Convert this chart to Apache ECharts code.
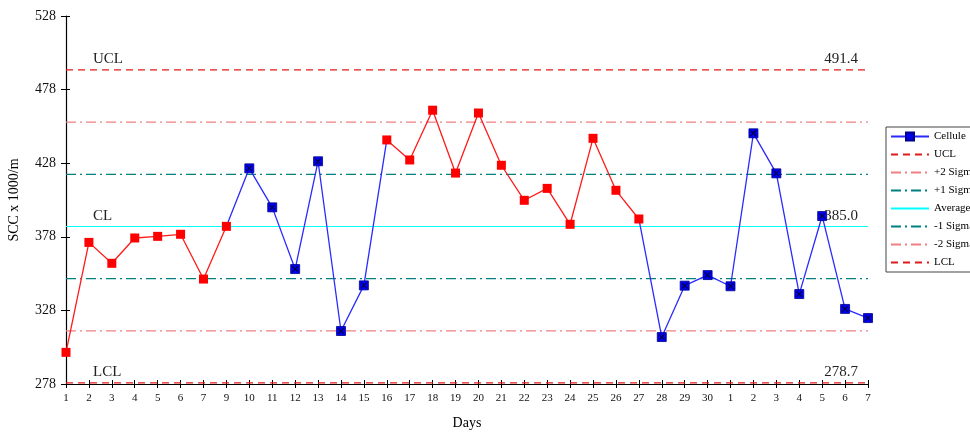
<!DOCTYPE html>
<html>
<head>
<meta charset="utf-8">
<script src="https://cdn.jsdelivr.net/npm/echarts@6/dist/echarts.min.js"></script>
<style>html,body{margin:0;padding:0;background:#fff;}#c{width:970px;height:432px;}</style>
</head>
<body>
<div id="c"></div>
<script>
const days = ['1','2','3','4','5','6','7','9','10','11','12','13','14','15','16','17','18','19','20','21','22','23','24','25','26','27','28','29','30','1','2','3','4','5','6','7'];
const cellule = [299.5,374.2,360.0,377.2,378.3,379.7,349.3,385.1,424.5,398.0,356.1,429.3,314.0,345.0,443.8,430.2,464.0,421.3,462.1,426.6,402.8,410.9,386.5,444.9,409.6,390.1,309.9,344.8,352.0,344.4,448.3,421.1,339.1,392.1,329.0,322.8];
// 'r' = red marked point, 'b' = blue marked point
const pointGroup = ['r','r','r','r','r','r','r','r','b','b','b','b','b','b','r','r','r','r','r','r','r','r','r','r','r','r','b','b','b','b','b','b','b','b','b','b'];
const UCL = 491.4, CL = 385.0, LCL = 278.7;
const yTicks = [278, 328, 378, 428, 478, 528];

const sigma = (UCL - CL) / 3;
const limits = [
  {name:'UCL', v:UCL, color:'#e31a1c', type:[7,5]},
  {name:'+2 Sigma', v:CL + 2*sigma, color:'#f08080', type:[10,4,2,4]},
  {name:'+1 Sigma', v:CL + sigma, color:'#008080', type:[10,4,2,4]},
  {name:'Average', v:CL, color:'#00ffff', type:'solid'},
  {name:'-1 Sigma', v:CL - sigma, color:'#008080', type:[10,4,2,4]},
  {name:'-2 Sigma', v:CL - 2*sigma, color:'#f08080', type:[10,4,2,4]},
  {name:'LCL', v:LCL, color:'#e31a1c', type:[7,5]}
];
const serif = 'Liberation Serif';
const isBlue = i => pointGroup[i] === 'b';
const redData = cellule.map((v,i) => isBlue(i) ? null : v);
const blueData = cellule.map((v,i) => {
  if (isBlue(i)) return v;
  if ((i>0 && isBlue(i-1)) || (i<cellule.length-1 && isBlue(i+1))) return {value:v, symbol:'none'};
  return null;
});
const crossData = cellule.map((v,i) => isBlue(i) ? [i, v] : null).filter(d => d !== null);

function lbl(text, pos, dist) {
  return {show:true, formatter:text, position:pos, distance:dist, fontFamily:serif, fontSize:15, color:'#222'};
}
function markFor(name, value, valText) {
  return {
    silent:true, symbol:'none', lineStyle:{color:'rgba(0,0,0,0)', width:0},
    data:[
      {yAxis:value, label:lbl(name,'insideStartTop',[27,3])},
      {yAxis:value, label:lbl(valText,'insideEndTop',[10,3])}
    ]
  };
}

const series = [];
limits.forEach(l => {
  const s = {
    name:l.name, type:'line', data:days.map(()=>l.v), symbol:'none', silent:true,
    lineStyle:{color:l.color, width:1.2, type:l.type}, itemStyle:{color:l.color}, z:2
  };
  if (l.name==='UCL') s.markLine = markFor('UCL', UCL, UCL.toFixed(1));
  if (l.name==='Average') s.markLine = markFor('CL', CL, CL.toFixed(1));
  if (l.name==='LCL') s.markLine = markFor('LCL', LCL, LCL.toFixed(1));
  series.push(s);
});
series.push({
  name:'Cellule', type:'line', data:blueData, connectNulls:false,
  symbol:'rect', symbolSize:9,
  lineStyle:{color:'#2a2aff', width:1.3}, itemStyle:{color:'#0000ee', borderColor:'#00008b', borderWidth:0.8}, z:5
});
series.push({
  name:'CelluleRed', type:'line', data:redData, connectNulls:false,
  symbol:'rect', symbolSize:9,
  lineStyle:{color:'#ff1a1a', width:1.3}, itemStyle:{color:'#ff0000'}, z:6
});
series.push({
  name:'cross', type:'scatter', data:crossData,
  symbol:'path://M0,1.2L1.2,0L5,3.8L8.8,0L10,1.2L6.2,5L10,8.8L8.8,10L5,6.2L1.2,10L0,8.8L3.8,5Z', symbolSize:6,
  itemStyle:{color:'#000'}, z:7, silent:true
});

const legendNames = ['Cellule','UCL','+2 Sigma','+1 Sigma','Average','-1 Sigma','-2 Sigma','LCL'];
const chart = echarts.init(document.getElementById('c'));
chart.setOption({
  animation:false,
  grid:{left:66, right:102, top:16, bottom:48, containLabel:false, outerBoundsMode:'none'},
  legend:{
    data:legendNames.map(n => n === 'Cellule' ? {name:n} : {name:n, itemStyle:{opacity:0}}),
    orient:'vertical', left:886, top:127, itemWidth:38, itemHeight:10, itemGap:7,
    padding:[4,8,4,4], borderColor:'#444', borderWidth:1, borderRadius:0,
    textStyle:{fontFamily:serif, fontSize:11, color:'#000'}, selectedMode:false
  },
  xAxis:[{
    type:'category', data:days, boundaryGap:false,
    name:'Days', nameLocation:'middle', nameGap:32,
    nameTextStyle:{fontFamily:serif, fontSize:14, color:'#000'},
    axisLine:{lineStyle:{color:'#000', width:1.2}},
    axisTick:{show:true, length:4, interval:0, lineStyle:{color:'#000'}},
    axisLabel:{interval:0, fontFamily:serif, fontSize:11, color:'#111', margin:9},
    splitLine:{show:false}
  },{
    type:'category', data:days, boundaryGap:false, position:'bottom',
    axisLine:{show:false}, axisLabel:{show:false},
    axisTick:{show:true, inside:true, length:4, interval:0, lineStyle:{color:'#000'}},
    splitLine:{show:false}
  }],
  yAxis:[{
    type:'value', min:yTicks[0], max:yTicks[yTicks.length-1], interval:yTicks[1]-yTicks[0],
    name:'SCC x 1000/m', nameLocation:'middle', nameGap:45, nameRotate:90,
    nameTextStyle:{fontFamily:serif, fontSize:14, color:'#000'},
    axisLine:{show:true, lineStyle:{color:'#000', width:1.2}},
    axisTick:{show:true, length:5, lineStyle:{color:'#000'}},
    axisLabel:{fontFamily:serif, fontSize:14, color:'#111', margin:10},
    splitLine:{show:false}
  },{
    type:'value', min:yTicks[0], max:yTicks[yTicks.length-1], interval:yTicks[1]-yTicks[0], position:'left',
    axisLine:{show:false}, axisLabel:{show:false},
    axisTick:{show:true, inside:true, length:4, lineStyle:{color:'#000'}},
    splitLine:{show:false}
  }],
  series:series
});
</script>
</body>
</html>
